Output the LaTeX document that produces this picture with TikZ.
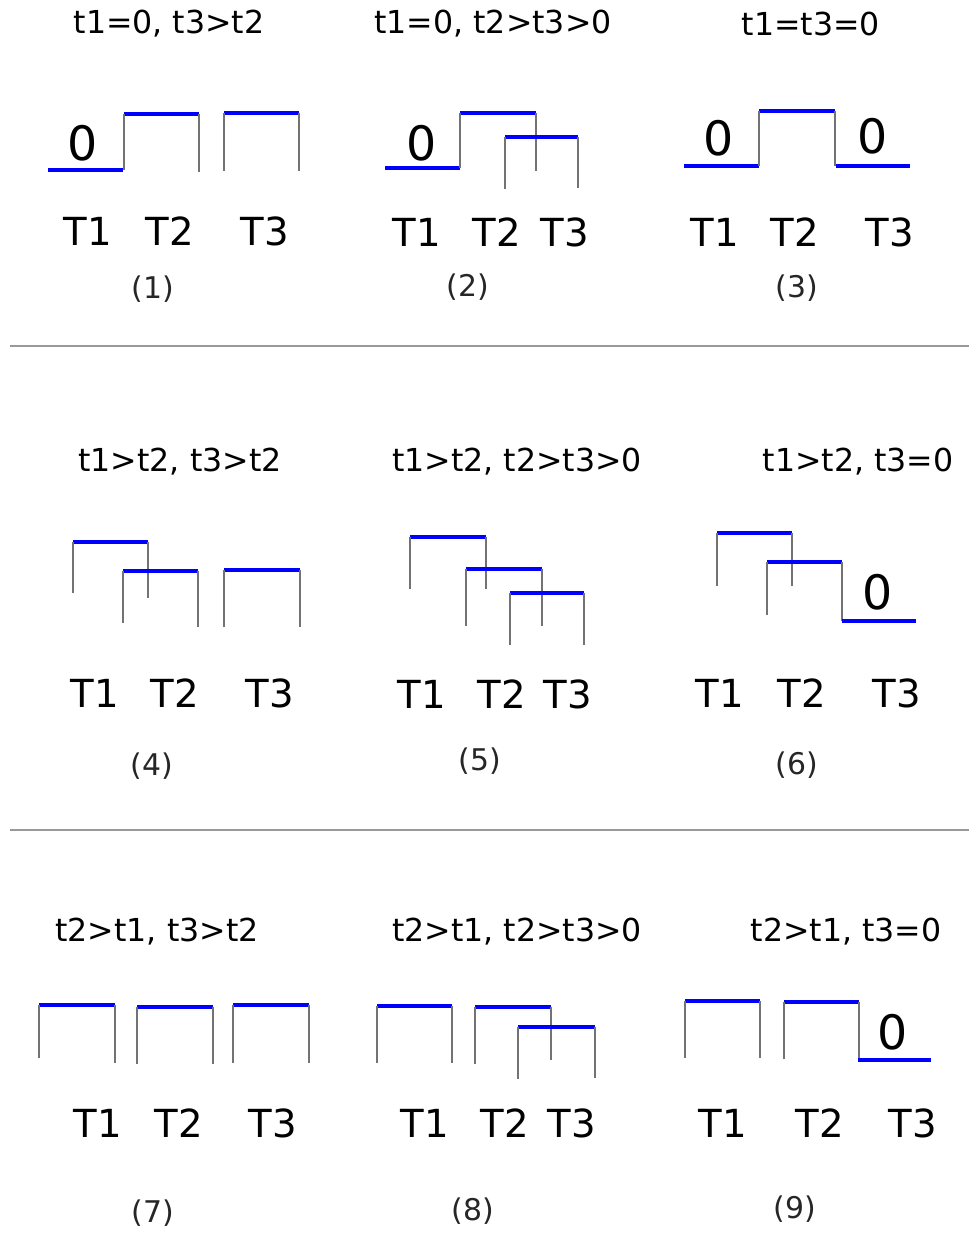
\documentclass[tikz,border=0pt]{standalone}
\usepackage{fontspec}
\setmainfont{DejaVu Sans}
\usetikzlibrary{positioning}
\tikzset{
  level/.style={blue,line width=2.3pt},
  tick/.style={black!55,line width=0.8pt},
  rule/.style={black!40,line width=1.2pt},
  cond/.style={font=\fontsize{18}{20}\selectfont},
  tlab/.style={font=\fontsize{22}{24}\selectfont},
  zero/.style={font=\fontsize{27}{29}\selectfont},
  capn/.style={font=\fontsize{17}{19}\selectfont,text=black!85}
}
% box: x left, x right, y top, y bottom left, y bottom right
\newcommand{\tbox}[5]{%
  \draw[level] (#1,#3)--(#2,#3);
  \draw[tick] (#1,#4)--(#1,#3);
  \draw[tick] (#2,#3)--(#2,#5);}

\begin{document}
\begin{tikzpicture}[x=0.02cm,y=-0.02cm]
\useasboundingbox (0,0) rectangle (969,1236);
% row 1
\node[cond] (h1) at (169,24) {t1=0, t3>t2};
\draw[level] (48,170)--(123,170);
\node[zero] (z1) at (83,143) {0};
\tbox{124}{199}{114}{170}{172}
\tbox{224}{299}{113}{171}{171}
\node[tlab] (a1) at (88,231) {T1};
\node[tlab] (b1) at (170,231) {T2};
\node[tlab] (c1) at (265,231) {T3};
\node[capn] (n1) at (153,289) {(1)};

\node[cond] (h2) at (493,24) {t1=0, t2>t3>0};
\draw[level] (385,168)--(460,168);
\node[zero] (z2) at (422,143) {0};
\tbox{460}{536}{113}{168}{171}
\tbox{505}{578}{137}{189}{188}
\node[tlab] (a2) at (417,232) {T1};
\node[tlab] (b2) at (497,232) {T2};
\node[tlab] (c2) at (565,232) {T3};
\node[capn] (n2) at (468,287) {(2)};

\node[cond] (h3) at (811,24) {t1=t3=0};
\draw[level] (684,166)--(759,166);
\node[zero] (z3) at (719,138) {0};
\tbox{759}{835}{111}{166}{166}
\draw[level] (836,166)--(910,166);
\node[zero] (y3) at (873,136) {0};
\node[tlab] (a3) at (715,232) {T1};
\node[tlab] (b3) at (795,232) {T2};
\node[tlab] (c3) at (890,232) {T3};
\node[capn] (n3) at (797,288) {(3)};

\draw[rule] (10,346)--(969,346);
% row 2
\node[cond] (h4) at (180,462) {t1>t2, t3>t2};
\tbox{73}{148}{542}{593}{598}
\tbox{123}{198}{571}{623}{627}
\tbox{224}{300}{570}{627}{627}
\node[tlab] (a4) at (95,693) {T1};
\node[tlab] (b4) at (175,693) {T2};
\node[tlab] (c4) at (270,693) {T3};
\node[capn] (n4) at (152,766) {(4)};

\node[cond] (h5) at (517,462) {t1>t2, t2>t3>0};
\tbox{410}{486}{537}{589}{589}
\tbox{466}{542}{569}{626}{626}
\tbox{510}{584}{593}{645}{645}
\node[tlab] (a5) at (422,694) {T1};
\node[tlab] (b5) at (502,694) {T2};
\node[tlab] (c5) at (568,694) {T3};
\node[capn] (n5) at (480,761) {(5)};

\node[cond] (h6) at (858,462) {t1>t2, t3=0};
\tbox{717}{792}{533}{586}{586}
\tbox{767}{842}{562}{615}{621}
\draw[level] (842,621)--(916,621);
\node[zero] (z6) at (878,592) {0};
\node[tlab] (a6) at (720,693) {T1};
\node[tlab] (b6) at (802,693) {T2};
\node[tlab] (c6) at (897,693) {T3};
\node[capn] (n6) at (797,765) {(6)};

\draw[rule] (10,830)--(969,830);
% row 3
\node[cond] (h7) at (157,932) {t2>t1, t3>t2};
\tbox{39}{115}{1005}{1058}{1063}
\tbox{137}{213}{1007}{1064}{1064}
\tbox{233}{309}{1005}{1063}{1063}
\node[tlab] (a7) at (98,1123) {T1};
\node[tlab] (b7) at (179,1123) {T2};
\node[tlab] (c7) at (273,1123) {T3};
\node[capn] (n7) at (153,1213) {(7)};

\node[cond] (h8) at (517,932) {t2>t1, t2>t3>0};
\tbox{377}{452}{1006}{1063}{1063}
\tbox{475}{551}{1007}{1064}{1060}
\tbox{518}{595}{1027}{1079}{1078}
\node[tlab] (a8) at (425,1123) {T1};
\node[tlab] (b8) at (505,1123) {T2};
\node[tlab] (c8) at (572,1123) {T3};
\node[capn] (n8) at (473,1211) {(8)};

\node[cond] (h9) at (846,932) {t2>t1, t3=0};
\tbox{685}{760}{1001}{1058}{1058}
\tbox{784}{859}{1002}{1059}{1060}
\draw[level] (858,1060)--(931,1060);
\node[zero] (z9) at (893,1032) {0};
\node[tlab] (a9) at (723,1123) {T1};
\node[tlab] (b9) at (820,1123) {T2};
\node[tlab] (c9) at (913,1123) {T3};
\node[capn] (n9) at (795,1209) {(9)};
\end{tikzpicture}
\end{document}
